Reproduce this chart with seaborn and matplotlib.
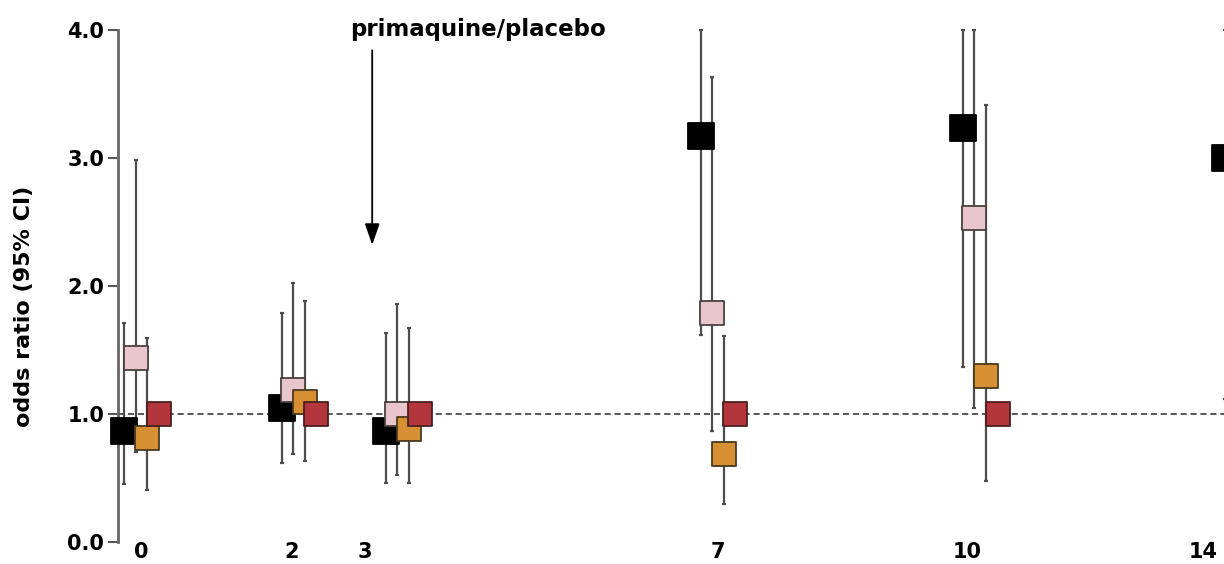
import numpy as np
import pandas as pd
import seaborn as sns
import matplotlib.pyplot as plt

# day groups (label, axis position of group centre)
day_labels = ["0", "2", "3", "7", "10", "14"]
day_pos = [0.0, 2.0, 3.32, 7.32, 10.65, 13.98]
label_pos = [0.0, 1.91, 2.84, 7.32, 10.49, 13.48]

series = ["s1", "s2", "s3", "s4"]

# odds ratios and 95% CI, one list per series (order = days)
or_s1 = [0.87, 1.05, 0.87, 3.17, 3.23, 3.00]
lo_s1 = [0.45, 0.62, 0.46, 1.62, 1.37, 1.12]
hi_s1 = [1.71, 1.79, 1.63, 4.00, 4.00, 4.00]

or_s2 = [1.44, 1.19, 1.00, 1.79, 2.53, np.nan]
lo_s2 = [0.70, 0.69, 0.52, 0.87, 1.05, np.nan]
hi_s2 = [2.98, 2.02, 1.86, 3.63, 4.00, np.nan]

or_s3 = [0.81, 1.09, 0.88, 0.69, 1.30, np.nan]
lo_s3 = [0.41, 0.63, 0.46, 0.30, 0.48, np.nan]
hi_s3 = [1.59, 1.88, 1.67, 1.61, 3.41, np.nan]

or_s4 = [1.00, 1.00, 1.00, 1.00, 1.00, np.nan]

fills = ["#000000", "#e9c6cd", "#d68f32", "#b3363d"]
edges = ["#000000", "#4a4040", "#4a3a20", "#4a2020"]
dodge = [-0.22, -0.075, 0.075, 0.22]

rows = []
for s, vals, lo, hi in [("s1", or_s1, lo_s1, hi_s1), ("s2", or_s2, lo_s2, hi_s2),
                        ("s3", or_s3, lo_s3, hi_s3), ("s4", or_s4, [np.nan] * 6, [np.nan] * 6)]:
    for i, d in enumerate(day_labels):
        rows.append({"day": d, "pos": day_pos[i], "series": s,
                     "odds": vals[i], "lo": lo[i], "hi": hi[i]})
df = pd.DataFrame(rows)
df["x"] = df["pos"] + df["series"].map(dict(zip(series, dodge)))

sns.set_style("white")
plt.rcParams["font.family"] = ["DejaVu Sans"]
plt.rcParams["font.weight"] = "bold"
plt.rcParams["text.color"] = "black"
plt.rcParams["axes.labelcolor"] = "black"
plt.rcParams["xtick.color"] = "black"
plt.rcParams["ytick.color"] = "black"

fig = plt.figure(figsize=(12.24, 5.64), dpi=100)
ax = fig.add_axes([0.0964, 0.039, 0.9036, 0.908])

ax.axhline(1.0, color="#2a2a2a", lw=1.1, ls=(0, (4, 2.5)), zorder=1)

# confidence intervals
ci = df.dropna(subset=["lo"])
ax.errorbar(ci["x"], ci["odds"],
            yerr=[ci["odds"] - ci["lo"], ci["hi"] - ci["odds"]],
            fmt="none", ecolor="#4d4d4d", elinewidth=1.6, capsize=1.5,
            capthick=1.6, zorder=2, clip_on=False)

for s, fc, ec, sz in zip(series, fills, edges, [330, 280, 280, 280]):
    sub = df[df["series"] == s].dropna(subset=["odds"])
    sns.scatterplot(data=sub, x="x", y="odds", marker="s", s=sz, color=fc,
                    edgecolor=ec, linewidth=1.3, ax=ax, zorder=3, legend=False,
                    clip_on=False)

ax.set_xlim(-0.298, 13.746)
ax.set_ylim(0, 4)
ax.set_yticks([0, 1, 2, 3, 4])
ax.set_yticklabels(["0.0", "1.0", "2.0", "3.0", "4.0"], fontsize=15, fontweight="bold")
ax.set_xticks(label_pos)
ax.set_xticklabels(day_labels, fontsize=15, fontweight="bold")
ax.tick_params(axis="x", length=0, pad=0)
ax.tick_params(axis="y", length=7, width=1.5, color="#555555", pad=3, left=True)
for side in ["top", "right", "bottom"]:
    ax.spines[side].set_visible(False)
ax.spines["left"].set_color("#666666")
ax.spines["left"].set_linewidth(2)
ax.set_xlabel("")
ax.set_ylabel("odds ratio (95% CI)", fontsize=16, fontweight="bold")
ax.yaxis.set_label_coords(-0.076, 0.46)

ax.text(4.27, 4.0, "primaquine/placebo", ha="center", va="center",
        fontsize=16.5, fontweight="bold")
ax.annotate("", xy=(2.93, 2.32), xytext=(2.93, 3.84),
            arrowprops=dict(arrowstyle="-|>,head_width=0.45,head_length=1.3",
                            color="black", lw=1.3, shrinkA=0, shrinkB=0))

fig.savefig("out.png", dpi=100)
